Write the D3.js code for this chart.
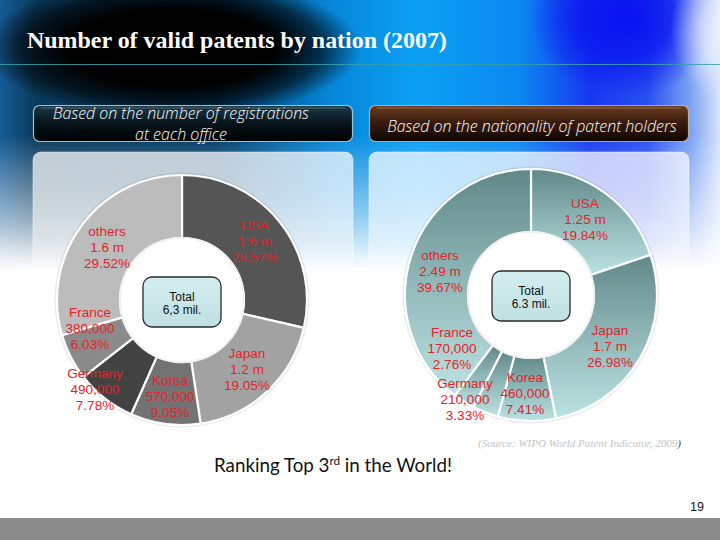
<!DOCTYPE html>
<html><head><meta charset="utf-8">
<script src="https://cdn.jsdelivr.net/npm/d3@7"></script>
<style>html,body{margin:0;padding:0;background:#fff;}svg{display:block;}</style>
</head><body>
<script>
// ---- data ----
const categories = ["USA", "Japan", "Korea", "Germany", "France", "others"];
const leftAmounts = ["1.6 m", "1.2 m", "570,000", "490,000", "380,000", "1.6 m"];
const leftShares = [28.57, 19.05, 9.05, 7.78, 6.03, 29.52];
const rightAmounts = ["1.25 m", "1.7 m", "460,000", "210,000", "170,000", "2.49 m"];
const rightShares = [19.84, 26.98, 7.41, 3.33, 2.76, 39.67];
const leftTotal = ["Total", "6,3 mil."];
const rightTotal = ["Total", "6.3 mil."];
const titleText = "Number of valid patents by nation (2007)";
const leftHeader = ["Based on the number of registrations", "at each office"];
const rightHeader = ["Based on the nationality of patent holders"];
const sourceText = "(Source: WIPO World Patent Indicator, 2009";

// ---- layout / style ----
const W = 720, H = 540;
const leftColors = ["#555555", "#a2a2a2", "#737373", "#424242", "#8a8a8a", "#bcbcbc"];
const leftLabelOff = [[73, -75], [65, 53], [-12, 80], [-87, 73], [-92, 12], [-75, -69]];
const rightLabelOff = [[54, -92], [79, 35], [-6, 82], [-66, 88], [-79, 37], [-91, -40]];

const svg = d3.select("body").append("svg").attr("width", W).attr("height", H);
const defs = svg.append("defs");

function lin(id, x1, y1, x2, y2, stops) {
  const g = defs.append("linearGradient").attr("id", id)
    .attr("x1", x1).attr("y1", y1).attr("x2", x2).attr("y2", y2);
  stops.forEach(s => g.append("stop").attr("offset", s[0]).attr("stop-color", s[1]).attr("stop-opacity", s[2] == null ? 1 : s[2]));
}
function rad(id, stops) {
  const g = defs.append("radialGradient").attr("id", id);
  stops.forEach(s => g.append("stop").attr("offset", s[0]).attr("stop-color", s[1]).attr("stop-opacity", s[2] == null ? 1 : s[2]));
}

lin("bgH", 0, 0, 1, 0, [[0, "#145c98"], [0.05, "#0a3a5c"], [0.3, "#033e6a"], [0.46, "#0686d8"], [0.58, "#0aa0f4"], [0.72, "#0a88f0"], [0.82, "#1838f0"], [0.9, "#2850f0"], [0.96, "#7ea4f4"], [1, "#d8e4fa"]]);
rad("blk", [[0, "#000", 1], [0.55, "#000", 1], [0.8, "#000", 0.6], [1, "#000", 0]]);
rad("dblue", [[0, "#0a10f0", 1], [0.5, "#0a18f0", 0.8], [1, "#0a18f0", 0]]);
rad("wht", [[0, "#f4f6fe", 1], [0.5, "#e8eefc", 0.7], [1, "#e8eefc", 0]]);
lin("fadeW", 0, 0, 0, 1, [[0, "#fff", 0], [0.5, "#fff", 0], [0.8, "#fff", 0.55], [0.95, "#fff", 0.9], [1, "#fff", 1]]);
lin("hdrL", 0, 0, 0, 1, [[0, "#1c3c4c"], [0.45, "#08161e"], [1, "#000"]]);
lin("hdrR", 0, 0, 0, 1, [[0, "#6e3c20"], [0.45, "#3a1c0e"], [1, "#0e0603"]]);
lin("panel", 0, 0, 0, 1, [[0, "#fff", 0.72], [0.5, "#fff", 0.55], [1, "#fff", 0]]);
lin("teal", 0, 0, 0, 1, [[0, "#608888"], [0.5, "#90b8b8"], [1, "#bce2e2"]]);
lin("box", 0, 0, 0, 1, [[0, "#d4eef0"], [1, "#bfe0e3"]]);

// ---- background ----
svg.append("rect").attr("width", W).attr("height", H).attr("fill", "#fff");
const bg = svg.append("g");
bg.append("rect").attr("x", 0).attr("y", 0).attr("width", W).attr("height", 270).attr("fill", "url(#bgH)");
bg.append("ellipse").attr("cx", 625).attr("cy", 18).attr("rx", 95).attr("ry", 80).attr("fill", "url(#dblue)");
bg.append("ellipse").attr("cx", 730).attr("cy", 30).attr("rx", 60).attr("ry", 70).attr("fill", "url(#wht)");
bg.append("ellipse").attr("cx", 172).attr("cy", 48).attr("rx", 190).attr("ry", 70).attr("fill", "url(#blk)");
bg.append("rect").attr("x", 0).attr("y", 0).attr("width", W).attr("height", 271).attr("fill", "url(#fadeW)");
bg.append("line").attr("x1", 0).attr("x2", W).attr("y1", 64.5).attr("y2", 64.5).attr("stroke", "#3aa0a8").attr("stroke-width", 1).attr("opacity", 0.85);

function fitText(sel, target) {
  const w = sel.node().getComputedTextLength();
  const fs = parseFloat(sel.attr("font-size"));
  sel.attr("font-size", (fs * target / w).toFixed(2));
}

// title
const t = svg.append("text").attr("x", 27).attr("y", 48).attr("font-family", "Liberation Serif, Times New Roman, serif")
  .attr("font-weight", "bold").attr("font-size", 21).attr("fill", "#fff").text(titleText);
fitText(t, 420);

// panels + headers
[[33, "url(#hdrL)", "rgba(190,215,230,0.85)"], [369, "url(#hdrR)", "rgba(215,190,170,0.8)"]].forEach(([x, f, s]) => {
  svg.append("rect").attr("x", x).attr("y", 152).attr("width", 320).attr("height", 150).attr("rx", 8)
    .attr("fill", "url(#panel)").attr("stroke", "rgba(255,255,255,0.45)");
  svg.append("rect").attr("x", x + 0.5).attr("y", 105.5).attr("width", 319).attr("height", 36).attr("rx", 6)
    .attr("fill", f).attr("stroke", s).attr("stroke-width", 1.2);
  svg.append("line").attr("x1", x + 8).attr("x2", x + 312).attr("y1", 108).attr("y2", 108)
    .attr("stroke", "rgba(255,255,255,0.25)");
});
const hFont = "Open Sans, Noto Sans, DejaVu Sans, sans-serif";
const hl1 = svg.append("text").attr("x", 181).attr("y", 118.5).attr("text-anchor", "middle").attr("font-family", hFont)
  .attr("font-style", "italic").attr("font-weight", 300).attr("font-size", 13).attr("fill", "#fff").text(leftHeader[0]);
fitText(hl1, 256);
const hl2 = svg.append("text").attr("x", 181).attr("y", 140).attr("text-anchor", "middle").attr("font-family", hFont)
  .attr("font-style", "italic").attr("font-weight", 300).attr("font-size", 13).attr("fill", "#fff").text(leftHeader[1]);
fitText(hl2, 92);
const hr1 = svg.append("text").attr("x", 532).attr("y", 131.5).attr("text-anchor", "middle").attr("font-family", hFont)
  .attr("font-style", "italic").attr("font-weight", 300).attr("font-size", 13).attr("fill", "#fff").text(rightHeader[0]);
fitText(hr1, 290);

// ---- donuts ----
const pie = d3.pie().sort(null).value(d => d);
function donut(cx, cy, R, r, shares, amounts, fills, offs, totalLines, box) {
  const g = svg.append("g").attr("transform", `translate(${cx},${cy})`);
  const arc = d3.arc().innerRadius(r).outerRadius(R);
  g.append("circle").attr("r", R + 1.5).attr("fill", "none").attr("stroke", "rgba(0,0,0,0.08)").attr("stroke-width", 2);
  g.selectAll("path.seg").data(pie(shares)).join("path").attr("class", "seg")
    .attr("d", arc).attr("fill", (d, i) => fills[i]).attr("stroke", "#fff").attr("stroke-width", 2.2);
  g.append("circle").attr("r", r).attr("fill", "#fff").attr("stroke", "#f2f2f2").attr("stroke-width", 2);
  categories.forEach((c, i) => {
    const lines = [c, amounts[i], shares[i].toFixed(2) + "%"];
    const txt = g.append("text").attr("text-anchor", "middle").attr("font-family", "Liberation Sans, Arial, sans-serif")
      .attr("font-size", 13.5).attr("fill", "#e4222a");
    lines.forEach((l, k) => txt.append("tspan").attr("x", offs[i][0]).attr("y", offs[i][1] + 4.8 + k * 16.3).text(l));
  });
  g.append("rect").attr("x", box[0]).attr("y", box[1]).attr("width", 78).attr("height", 50).attr("rx", 9)
    .attr("fill", "url(#box)").attr("stroke", "#2a2a2a").attr("stroke-width", 1.3);
  const tt = g.append("text").attr("text-anchor", "middle").attr("font-family", "Liberation Sans, Arial, sans-serif")
    .attr("font-size", 12).attr("fill", "#111");
  totalLines.forEach((l, k) => tt.append("tspan").attr("x", box[0] + 39).attr("y", box[1] + 24 + k * 12.5).text(l));
}
donut(182, 300, 125, 62, leftShares, leftAmounts, leftColors, leftLabelOff, leftTotal, [-39, -23]);
donut(531, 295, 126, 63, rightShares, rightAmounts, categories.map(() => "url(#teal)"), rightLabelOff, rightTotal, [-39, -24]);

// source
const src = svg.append("text").attr("x", 478).attr("y", 447).attr("font-family", "Liberation Serif, Times New Roman, serif")
  .attr("font-style", "italic").attr("font-size", 10).attr("fill", "#c4c4c4");
src.append("tspan").text(sourceText);
src.append("tspan").attr("fill", "#444").text(")");
fitText(src, 203);

// ranking
const rk = svg.append("text").attr("x", 214).attr("y", 472).attr("font-family", "Lato, Open Sans, sans-serif")
  .attr("font-size", 18).attr("fill", "#111");
rk.append("tspan").text("Ranking Top 3");
rk.append("tspan").attr("dy", -7).attr("font-size", "0.62em").text("rd");
rk.append("tspan").attr("dy", 7).text(" in the World!");
fitText(rk, 238);

// page number + bar
svg.append("text").attr("x", 704).attr("y", 511).attr("text-anchor", "end").attr("font-family", "Liberation Sans, Arial, sans-serif")
  .attr("font-size", 12.5).attr("fill", "#111").text("19");
svg.append("rect").attr("x", 0).attr("y", 518).attr("width", W).attr("height", 22).attr("fill", "#8b8b8b");
</script>
</body></html>
